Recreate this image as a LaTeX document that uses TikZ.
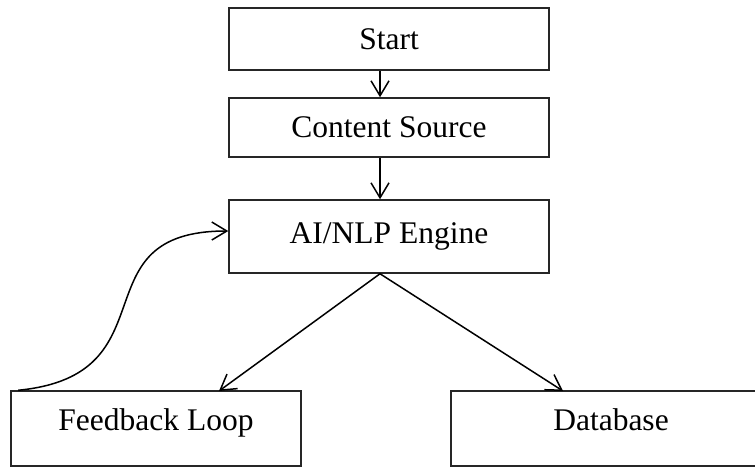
\documentclass[tikz,border=0pt]{standalone}
\usepackage{fontspec}
\setmainfont{Liberation Serif}
\usetikzlibrary{arrows.meta}
\begin{document}
\begin{tikzpicture}[x=1pt,y=-1pt,
  box/.style={draw=black!85, line width=1.5pt, minimum width=320pt, inner sep=0pt,
    font=\fontsize{31.5}{36}\selectfont},
  lowbox/.style={box, minimum height=75pt, text height=22pt, text depth=19pt},
  arr/.style={line width=1.5pt, -{Straight Barb[length=15pt,width=18pt]}}]
\useasboundingbox (0,0) rectangle (755,467);
\node[box, minimum height=62pt] (start) at (389,39) {Start};
\node[box, minimum height=59pt] (content) at (389,127.5) {Content Source};
\node[box, minimum height=73pt] (ai) at (389,236.5) {AI/NLP Engine};
\node[lowbox, minimum width=290pt] (fb) at (156,428.5) {Feedback Loop};
\node[lowbox] (db) at (611,428.5) {Database};
\coordinate (ax) at (380,0);
\coordinate (fbin) at (219,391);
\coordinate (dbin) at (563,391);
\coordinate (fbout) at ([xshift=8pt]fb.north west);
\coordinate (aiin) at ([yshift=5.5pt]ai.west);
\draw[arr] (start.south -| ax) -- (content.north -| ax);
\draw[arr] (content.south -| ax) -- (ai.north -| ax);
\draw[arr] (ai.south -| ax) -- (fbin);
\draw[arr] (ai.south -| ax) -- (dbin);
\draw[arr] (fbout) .. controls (175,375) and (75,231) .. (aiin);
\end{tikzpicture}
\end{document}
